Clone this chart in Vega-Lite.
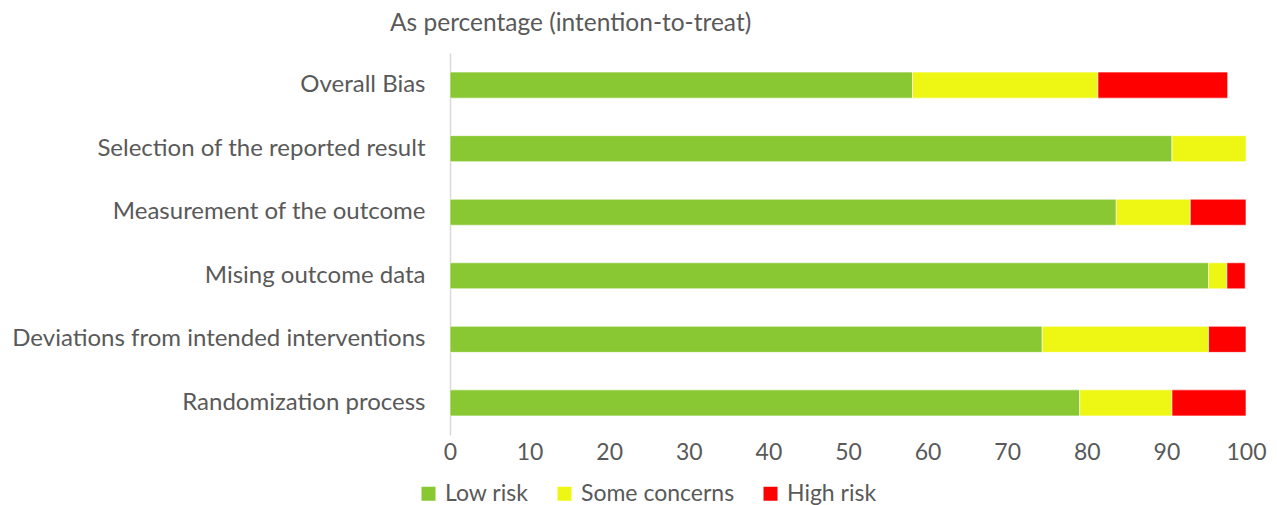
{
  "$schema": "https://vega.github.io/schema/vega-lite/v6.json",
  "autosize": "none",
  "width": 796,
  "height": 382,
  "padding": {"left": 450, "top": 53, "right": 31, "bottom": 70},
  "background": "white",
  "title": {
    "text": "As percentage (intention-to-treat)",
    "anchor": "start",
    "frame": "group",
    "dx": -60,
    "offset": 17,
    "font": "Lato",
    "fontSize": 24.5,
    "fontWeight": "normal",
    "color": "#595959"
  },
  "data": {
    "values": [
      {"domain": "Overall Bias", "risk": "Low risk", "ord": 1, "pct": 58.1},
      {"domain": "Overall Bias", "risk": "Some concerns", "ord": 2, "pct": 23.3},
      {"domain": "Overall Bias", "risk": "High risk", "ord": 3, "pct": 16.3},
      {"domain": "Selection of the reported result", "risk": "Low risk", "ord": 1, "pct": 90.7},
      {"domain": "Selection of the reported result", "risk": "Some concerns", "ord": 2, "pct": 9.3},
      {"domain": "Measurement of the outcome", "risk": "Low risk", "ord": 1, "pct": 83.7},
      {"domain": "Measurement of the outcome", "risk": "Some concerns", "ord": 2, "pct": 9.3},
      {"domain": "Measurement of the outcome", "risk": "High risk", "ord": 3, "pct": 7.0},
      {"domain": "Mising outcome data", "risk": "Low risk", "ord": 1, "pct": 95.3},
      {"domain": "Mising outcome data", "risk": "Some concerns", "ord": 2, "pct": 2.3},
      {"domain": "Mising outcome data", "risk": "High risk", "ord": 3, "pct": 2.3},
      {"domain": "Deviations from intended interventions", "risk": "Low risk", "ord": 1, "pct": 74.4},
      {"domain": "Deviations from intended interventions", "risk": "Some concerns", "ord": 2, "pct": 20.9},
      {"domain": "Deviations from intended interventions", "risk": "High risk", "ord": 3, "pct": 4.7},
      {"domain": "Randomization process", "risk": "Low risk", "ord": 1, "pct": 79.1},
      {"domain": "Randomization process", "risk": "Some concerns", "ord": 2, "pct": 11.6},
      {"domain": "Randomization process", "risk": "High risk", "ord": 3, "pct": 9.3}
    ]
  },
  "mark": {"type": "bar", "stroke": "white", "strokeWidth": 1, "strokeOpacity": 0.6},
  "encoding": {
    "y": {
      "field": "domain",
      "type": "nominal",
      "sort": [
        "Overall Bias",
        "Selection of the reported result",
        "Measurement of the outcome",
        "Mising outcome data",
        "Deviations from intended interventions",
        "Randomization process"
      ],
      "scale": {"paddingInner": 0.59, "paddingOuter": 0.3},
      "axis": {
        "title": null,
        "ticks": false,
        "domainColor": "#D9D9D9",
        "domainWidth": 1.5,
        "labelFont": "Lato",
        "labelFontSize": 24,
        "labelColor": "#595959",
        "labelPadding": 25,
        "labelLimit": 500
      }
    },
    "x": {
      "field": "pct",
      "type": "quantitative",
      "stack": "zero",
      "scale": {"domain": [0, 100], "nice": false},
      "axis": {
        "title": null,
        "values": [0, 10, 20, 30, 40, 50, 60, 70, 80, 90, 100],
        "grid": false,
        "domain": false,
        "ticks": false,
        "labelFlush": false,
        "labelOverlap": false,
        "labelFont": "Lato",
        "labelFontSize": 23,
        "labelColor": "#595959",
        "labelPadding": 6
      }
    },
    "color": {
      "field": "risk",
      "type": "nominal",
      "scale": {
        "domain": ["Low risk", "Some concerns", "High risk"],
        "range": ["#8AC833", "#EEF714", "#FF0000"]
      },
      "legend": {
        "title": null,
        "orient": "none",
        "direction": "horizontal",
        "legendX": -33,
        "legendY": 429,
        "symbolType": "square",
        "symbolSize": 196,
        "symbolStrokeWidth": 0,
        "labelFont": "Lato",
        "labelFontSize": 23,
        "labelColor": "#595959",
        "labelOffset": 5,
        "columnPadding": 24
      }
    },
    "order": {"field": "ord", "type": "quantitative"}
  },
  "config": {"view": {"stroke": null}}
}
